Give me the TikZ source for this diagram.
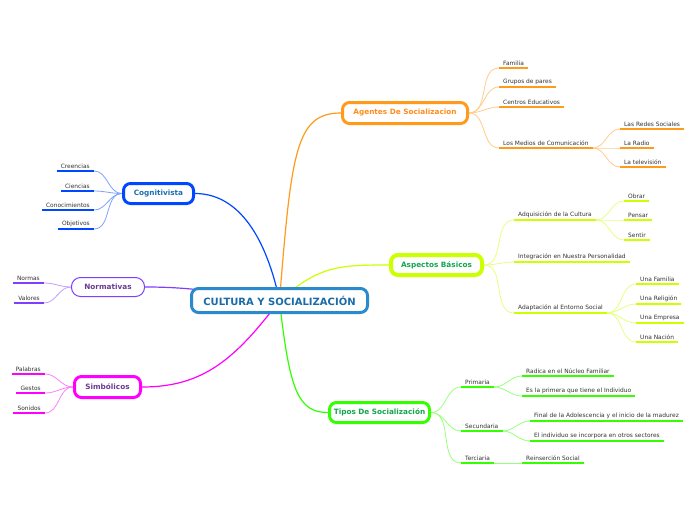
\documentclass[tikz,border=0pt]{standalone}
\usepackage{fontspec}
\setmainfont{DejaVu Sans}
\usetikzlibrary{backgrounds}
\definecolor{cecol}{HTML}{2B8ACB}
\definecolor{cetxt}{HTML}{1A6BA8}
\definecolor{agcol}{HTML}{FF9A1A}
\definecolor{agtxt}{HTML}{FF8C1A}
\definecolor{ascol}{HTML}{CCFF00}
\definecolor{tpcol}{HTML}{33FF00}
\definecolor{grtxt}{HTML}{12A64A}
\definecolor{cgcol}{HTML}{0048FF}
\definecolor{cgtxt}{HTML}{1A6FB0}
\definecolor{nmcol}{HTML}{7F3FFF}
\definecolor{smcol}{HTML}{FF00FF}
\definecolor{pptxt}{HTML}{6B3A96}
\definecolor{leafgray}{HTML}{333333}
\begin{document}
\begin{tikzpicture}[x=1pt,y=-1pt,
    box/.style 2 args={draw=#1,text=#2,fill=white,rounded corners=7pt,line width=3pt,inner sep=0pt,font=\fontsize{7.3}{8}\selectfont\bfseries},
    leaf/.style={font=\fontsize{5.9}{6.5}\selectfont,text=leafgray,inner xsep=4pt,inner ysep=2pt,
        append after command={(\tikzlastnode.south west) edge[draw=#1,line width=1.5pt] (\tikzlastnode.south east)}},
    main/.style={draw=#1,line width=1.2pt},
    sub/.style={draw=#1!50,line width=0.8pt}]
    \useasboundingbox (0,0) rectangle (696,520);

    \node[box={cecol}{cetxt},minimum width=176pt,minimum height=24pt,font=\fontsize{10}{11}\selectfont\bfseries] (cultura) at (279.5,300.5) {CULTURA Y SOCIALIZACIÓN};
    \node[box={agcol}{agtxt},minimum width=125pt,minimum height=21pt] (agentes) at (405,113) {Agentes De Socializacion};
    \node[box={ascol}{grtxt},line width=4pt,minimum width=91pt,minimum height=20pt] (aspectos) at (436.5,265) {Aspectos Básicos};
    \node[box={tpcol}{grtxt},minimum width=100pt,minimum height=20pt] (tipos) at (379.5,412.5) {Tipos De Socialización};
    \node[box={cgcol}{cgtxt},minimum width=70pt,minimum height=20pt] (cognitivista) at (158.5,193.5) {Cognitivista};
    \node[box={nmcol}{pptxt},line width=1pt,rounded corners=9pt,minimum width=73pt,minimum height=19pt] (normativas) at (108,287) {Normativas};
    \node[box={smcol}{pptxt},minimum width=66pt,minimum height=21pt] (simbolicos) at (107.5,387) {Simbólicos};

    \node[leaf=agcol,anchor=south west] (familia) at (499,68) {Familia};
    \node[leaf=agcol,anchor=south west] (grupos) at (499,87) {Grupos de pares};
    \node[leaf=agcol,anchor=south west] (centros) at (499,107) {Centros Educativos};
    \node[leaf=agcol,anchor=south west] (medios) at (499,148) {Los Medios de Comunicación};
    \node[leaf=agcol,anchor=south west] (redes) at (620,129) {Las Redes Sociales};
    \node[leaf=agcol,anchor=south west] (radio) at (620,148) {La Radio};
    \node[leaf=agcol,anchor=south west] (television) at (620,167) {La televisión};

    \node[leaf=ascol,anchor=south west] (adquisicion) at (514,220) {Adquisición de la Cultura};
    \node[leaf=ascol,anchor=south west] (integracion) at (514,262) {Integración en Nuestra Personalidad};
    \node[leaf=ascol,anchor=south west] (adaptacion) at (514,313) {Adaptación al Entorno Social};
    \node[leaf=ascol,anchor=south west] (obrar) at (624,201) {Obrar};
    \node[leaf=ascol,anchor=south west] (pensar) at (624,220) {Pensar};
    \node[leaf=ascol,anchor=south west] (sentir) at (624,240) {Sentir};
    \node[leaf=ascol,anchor=south west] (unafamilia) at (636,284) {Una Familia};
    \node[leaf=ascol,anchor=south west] (unareligion) at (636,304) {Una Religión};
    \node[leaf=ascol,anchor=south west] (unaempresa) at (636,323) {Una Empresa};
    \node[leaf=ascol,anchor=south west] (unanacion) at (636,342) {Una Nación};

    \node[leaf=tpcol,anchor=south west] (primaria) at (461,387) {Primaria};
    \node[leaf=tpcol,anchor=south west] (secundaria) at (461,431) {Secundaria};
    \node[leaf=tpcol,anchor=south west] (terciaria) at (461,463) {Terciaria};
    \node[leaf=tpcol,anchor=south west] (radica) at (522,376) {Radica en el Núcleo Familiar};
    \node[leaf=tpcol,anchor=south west] (primera) at (522,396) {Es la primera que tiene el Individuo};
    \node[leaf=tpcol,anchor=south west] (final) at (530,421) {Final de la Adolescencia y el inicio de la madurez};
    \node[leaf=tpcol,anchor=south west] (incorpora) at (530,441) {El individuo se incorpora en otros sectores};
    \node[leaf=tpcol,anchor=south west] (reinsercion) at (522,463) {Reinserción Social};

    \node[leaf=cgcol,anchor=south east] (creencias) at (94,171) {Creencias};
    \node[leaf=cgcol,anchor=south east] (ciencias) at (94,191) {Ciencias};
    \node[leaf=cgcol,anchor=south east] (conocimientos) at (94,210) {Conocimientos};
    \node[leaf=cgcol,anchor=south east] (objetivos) at (94,229) {Objetivos};

    \node[leaf=nmcol,anchor=south east] (normas) at (44,283) {Normas};
    \node[leaf=nmcol,anchor=south east] (valores) at (44,303) {Valores};

    \node[leaf=smcol,anchor=south east] (palabras) at (45,374) {Palabras};
    \node[leaf=smcol,anchor=south east] (gestos) at (45,393) {Gestos};
    \node[leaf=smcol,anchor=south east] (sonidos) at (45,413) {Sonidos};

    \begin{pgfonlayer}{background}
        \fill[white] (0,0) rectangle (696,520);
        \draw[main=agcol] (cultura.center) .. controls +(12,-150) and +(-45,0) .. (agentes.west);
        \draw[main=ascol] (cultura.center) .. controls +(40,-35) and +(-50,0) .. (aspectos.west);
        \draw[main=tpcol] (cultura.center) .. controls +(10,90) and +(-30,0) .. (tipos.west);
        \draw[main=cgcol] (cultura.center) .. controls +(-15,-70) and +(40,0) .. (cognitivista.east);
        \draw[main=nmcol] (cultura.center) .. controls +(-80,-12) and +(30,0) .. (normativas.east);
        \draw[main=smcol] (cultura.center) .. controls +(-45,60) and +(60,0) .. (simbolicos.east);

        \foreach \n in {familia,grupos,centros,medios}
            \draw[sub=agcol] (agentes.east) to[out=0,in=180] (\n.south west);
        \foreach \n in {redes,radio,television}
            \draw[sub=agcol] (medios.south east) to[out=0,in=180] (\n.south west);
        \foreach \n in {adquisicion,integracion,adaptacion}
            \draw[sub=ascol] (aspectos.east) to[out=0,in=180] (\n.south west);
        \foreach \n in {obrar,pensar,sentir}
            \draw[sub=ascol] (adquisicion.south east) to[out=0,in=180] (\n.south west);
        \foreach \n in {unafamilia,unareligion,unaempresa,unanacion}
            \draw[sub=ascol] (adaptacion.south east) to[out=0,in=180] (\n.south west);
        \foreach \n in {primaria,secundaria,terciaria}
            \draw[sub=tpcol] (tipos.east) to[out=0,in=180] (\n.south west);
        \foreach \n in {radica,primera}
            \draw[sub=tpcol] (primaria.south east) to[out=0,in=180] (\n.south west);
        \foreach \n in {final,incorpora}
            \draw[sub=tpcol] (secundaria.south east) to[out=0,in=180] (\n.south west);
        \draw[sub=tpcol] (terciaria.south east) -- (reinsercion.south west);
        \foreach \n in {creencias,ciencias,conocimientos,objetivos}
            \draw[sub=cgcol] (cognitivista.west) to[out=180,in=0] (\n.south east);
        \foreach \n in {normas,valores}
            \draw[sub=nmcol] (normativas.west) to[out=180,in=0] (\n.south east);
        \foreach \n in {palabras,gestos,sonidos}
            \draw[sub=smcol] (simbolicos.west) to[out=180,in=0] (\n.south east);
    \end{pgfonlayer}
\end{tikzpicture}
\end{document}
